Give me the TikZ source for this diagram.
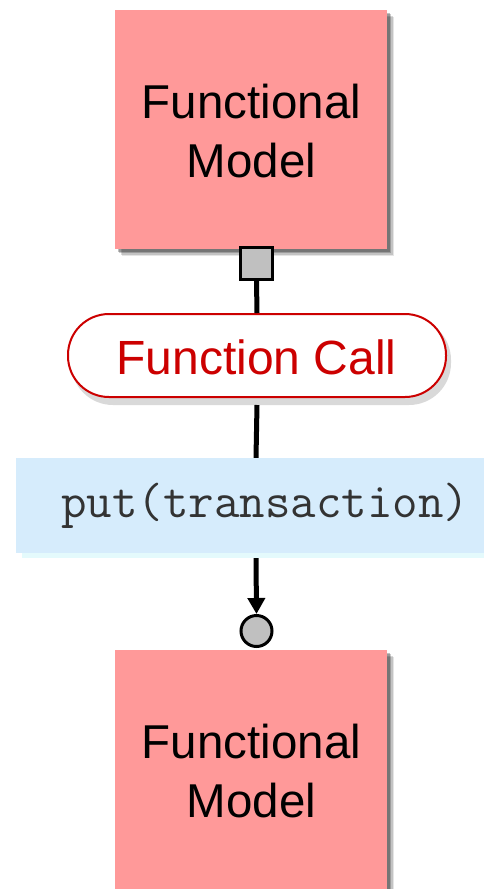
\documentclass[tikz,border=0pt]{standalone}
\usepackage{fontspec}
\setmainfont{Liberation Sans}
\usetikzlibrary{arrows.meta}
\definecolor{modelpink}{RGB}{255,153,153}
\definecolor{callred}{RGB}{204,0,0}
\definecolor{msgblue}{RGB}{214,236,252}
\definecolor{msgshadow}{RGB}{228,250,252}
\definecolor{portgray}{RGB}{192,192,192}
\tikzset{
  modelbox/.style={fill=modelpink, minimum width=272pt, minimum height=239pt, inner sep=0pt},
  modeltext/.style={font=\fontsize{47.5}{47.5}\selectfont, anchor=base, inner sep=0pt},
  callpill/.style={draw=callred, line width=2pt, fill=white, rounded corners=41pt,
    minimum width=378pt, minimum height=83pt, inner sep=0pt},
  calltext/.style={font=\fontsize{48}{48}\selectfont, text=callred, anchor=base, inner sep=0pt},
  msgbox/.style={fill=msgblue, minimum width=480pt, minimum height=95pt, inner sep=0pt},
  msgtext/.style={font=\ttfamily\fontsize{49.5}{49.5}\selectfont, text=black!80, anchor=base west, inner sep=0pt},
  portsq/.style={draw=black, line width=3pt, fill=portgray, minimum size=32pt, inner sep=0pt},
  portcirc/.style={circle, draw=black, line width=3pt, fill=portgray, minimum size=31pt, inner sep=0pt},
  wire/.style={line width=5pt, draw=black},
}
\begin{document}
\begin{tikzpicture}[x=1pt, y=-1pt]
  \useasboundingbox (0,0) rectangle (483,889);

  % soft shadows behind the two model boxes
  \foreach \o/\a in {7/0.10, 5.5/0.15, 4/0.2, 2.5/0.25} {
    \fill[black, opacity=\a] (115+\o,10+\o) rectangle (387+\o,249+\o);
    \fill[black, opacity=\a] (115+\o,650+\o) rectangle (387+\o,900);
  }

  % upper model
  \node[modelbox] (top) at (251,129.5) {};
  \node[modeltext] (topa) at (251.5,118) {Functional};
  \node[modeltext] (topb) at (251.5,177) {Model};

  % lower model
  \node[modelbox] (bot) at (251,769.5) {};
  \node[modeltext] (bota) at (251.5,758) {Functional};
  \node[modeltext] (botb) at (251.5,817) {Model};

  % output port on the upper model
  \node[portsq] (out) at (256.5,263) {};

  % function call label with its shadow
  \fill[black!15, rounded corners=42pt] (71,318) rectangle (451,405);
  \node[callpill] (call) at (257,355.5) {};
  \node[calltext] (calltxt) at (256.5,374) {Function Call};

  % message box with its shadow
  \fill[msgshadow] (22,460) rectangle (490,558);
  \node[msgbox] (msg) at (256,505.5) {};
  \node[msgtext] (msgtxt) at (61,517) {put(transaction)};

  % input port on the lower model
  \node[portcirc] (in) at (256.5,631) {};

  % connectors
  \draw[wire] (out.south) -- (call.north);
  \draw[wire] ([yshift=-7pt]call.south) -- (msg.north);
  \draw[wire, -{Triangle[length=16pt, width=17pt]}] ([yshift=-5pt]msg.south) -- (in.north);
\end{tikzpicture}
\end{document}
